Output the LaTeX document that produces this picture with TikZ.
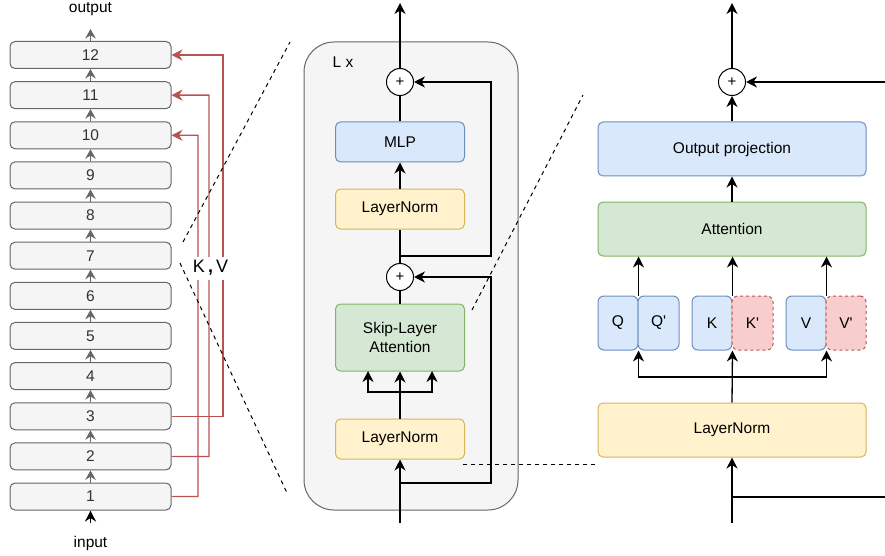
\documentclass[tikz,border=0pt]{standalone}
\usepackage{fontspec}
\setmainfont{Liberation Sans}[Ligatures=TeXOff]
\usetikzlibrary{arrows.meta}
\definecolor{bluef}{HTML}{DAE8FC}\definecolor{blued}{HTML}{6C8EBF}
\definecolor{greenf}{HTML}{D5E8D4}\definecolor{greend}{HTML}{82B366}
\definecolor{yelf}{HTML}{FFF2CC}\definecolor{yeld}{HTML}{D6B656}
\definecolor{redf}{HTML}{F8CECC}\definecolor{redd}{HTML}{B85450}
\definecolor{grayf}{HTML}{F5F5F5}\definecolor{grayd}{HTML}{666666}
\definecolor{grayt}{HTML}{333333}
\tikzset{
  txt/.style={font=\fontsize{15.5}{19.5}\selectfont},
  blk/.style={txt, draw, rounded corners=5pt, line width=1pt, inner sep=0pt, align=center},
  layerbox/.style={blk, fill=grayf, draw=grayd, text=grayt, minimum width=161pt, minimum height=27pt},
  bluebox/.style={blk, fill=bluef, draw=blued},
  greenbox/.style={blk, fill=greenf, draw=greend},
  yelbox/.style={blk, fill=yelf, draw=yeld},
  redbox/.style={blk, fill=redf, draw=redd, dashed},
  plusnode/.style={circle, draw, fill=white, line width=1pt, minimum size=27pt, inner sep=0pt, font=\fontsize{15}{15}\selectfont},
  arr/.style={line width=1.3pt, -{Stealth[length=11pt,width=11pt,inset=3.5pt]}},
  ln/.style={line width=1.3pt},
  grayarr/.style={line width=1.3pt, draw=grayd, -{Stealth[length=9.5pt,width=10.5pt,inset=3.2pt]}},
  redarr/.style={line width=1.3pt, draw=redd, -{Stealth[length=11pt,width=11pt,inset=3.5pt]}},
  dashln/.style={line width=1pt, dash pattern=on 4pt off 4pt},
}
\begin{document}
\begin{tikzpicture}[x=1pt,y=-1pt]
\useasboundingbox (0,0) rectangle (885,556);
% ---------- left stack ----------
\foreach \k in {1,...,12}{
  \node[layerbox] (L\k) at (90.5,{55+40.14*(12-\k)}) {\k};
}
\foreach \k [evaluate=\k as \n using int(\k+1)] in {1,...,11}{
  \draw[grayarr] (L\k.north) -- (L\n.south);
}
\coordinate (outtip) at (90.5,29);
\draw[grayarr] (L12.north) -- (outtip);
\node[txt] (outlbl) at (90.5,9) {output};
\coordinate (instart) at (90.5,523);
\draw[arr] (instart) -- (L1.south);
\node[txt] (inlbl) at (90.5,543) {input};
% red K,V links
\draw[redarr] (L3.east) -| (223,55) -- (L12.east);
\draw[redarr] (L2.east) -| (209,95.1) -- (L11.east);
\draw[redarr] (L1.east) -| (198,135.3) -- (L10.east);
\node[font=\fontsize{18}{18}\selectfont, fill=white, inner sep=1.5pt, minimum height=23pt] (kv) at (210.5,268) {K\,\textbf{,}\,V};
% zoom dashed lines
\coordinate (d1a) at (183,242); \coordinate (d1b) at (290,42);
\coordinate (d2a) at (180,263); \coordinate (d2b) at (287,493);
\draw[dashln] (d1a) -- (d1b);
\draw[dashln] (d2a) -- (d2b);
% ---------- middle block ----------
\draw[fill=grayf, draw=grayd, line width=1pt, rounded corners=30pt] (304,42) rectangle (518,510);
\node[txt, text=black] (lx) at (343,62) {L x};
\node[plusnode] (pA) at (400,82) {+};
\node[bluebox, minimum width=129pt, minimum height=40pt] (mlp) at (400,142) {MLP};
\node[yelbox, minimum width=129pt, minimum height=40pt] (ln1) at (400,209) {LayerNorm};
\node[plusnode] (pB) at (400,277) {+};
\node[greenbox, minimum width=129pt, minimum height=67pt] (sla) at (400,337.5) {Skip-Layer\\Attention};
\node[yelbox, minimum width=129pt, minimum height=40pt] (ln2) at (400,439) {LayerNorm};
\coordinate (mtop) at (400,3);
\coordinate (mbot) at (400,523);
\draw[arr] (pA.north) -- (mtop);
\draw[ln] (mlp.north) -- (pA.south);
\draw[arr] (ln1.north) -- (mlp.south);
\draw[ln] (pB.north) -- (ln1.south);
\draw[arr] (400,256) -- (491,256) -- (491,82) -- (pA.east);
\draw[ln] (sla.north) -- (pB.south);
\draw[arr] (ln2.north) -- (sla.south);
\draw[arr] (400,392) -| (368,371);
\draw[arr] (400,392) -| (432,371);
\draw[arr] (mbot) -- (ln2.south);
\draw[arr] (400,483) -- (491,483) -- (491,277) -- (pB.east);
% dashed zoom lines
\coordinate (d3a) at (463,464); \coordinate (d3b) at (597,464);
\coordinate (d4a) at (472,310); \coordinate (d4b) at (583,95);
\draw[dashln] (d3a) -- (d3b);
\draw[dashln] (d4a) -- (d4b);
% ---------- right block ----------
\node[plusnode] (pC) at (732,82) {+};
\node[bluebox, minimum width=268pt, minimum height=54pt] (op) at (732,149) {Output projection};
\node[greenbox, minimum width=268pt, minimum height=54pt] (att) at (732,229) {Attention};
\node[bluebox, minimum width=40pt, minimum height=54pt, rounded corners=6pt] (q) at (618,323) {Q};
\node[bluebox, minimum width=41pt, minimum height=54pt, rounded corners=6pt] (qp) at (658.5,323) {Q'};
\node[bluebox, minimum width=40pt, minimum height=54pt, rounded corners=6pt] (k) at (712,323) {K};
\node[redbox, minimum width=41pt, minimum height=54pt, rounded corners=6pt] (kp) at (752.5,323) {K'};
\node[bluebox, minimum width=40pt, minimum height=54pt, rounded corners=6pt] (v) at (806,323) {V};
\node[redbox, minimum width=40pt, minimum height=54pt, rounded corners=6pt] (vp) at (846,323) {V'};
\node[yelbox, minimum width=268pt, minimum height=54pt] (lnR) at (732,430) {LayerNorm};
\coordinate (rtop) at (732,3);
\coordinate (rbot) at (732,523);
\coordinate (rin) at (885,82);
\coordinate (rout) at (885,497);
\draw[arr] (pC.north) -- (rtop);
\draw[arr] (op.north) -- (pC.south);
\draw[arr] (rin) -- (pC.east);
\draw[arr] (att.north) -- (op.south);
\draw[arr] (q.north east) -- (att.south -| q.north east);
\draw[arr] (k.north east) -- (att.south -| k.north east);
\draw[arr] (v.north east) -- (att.south -| v.north east);
\draw[arr] (lnR.north) -- (k.south east);
\draw[arr] (732,377) -| (q.south east);
\draw[arr] (732,377) -| (v.south east);
\draw[arr] (rbot) -- (lnR.south);
\draw[ln] (732,497) -- (rout);
\end{tikzpicture}
\end{document}
